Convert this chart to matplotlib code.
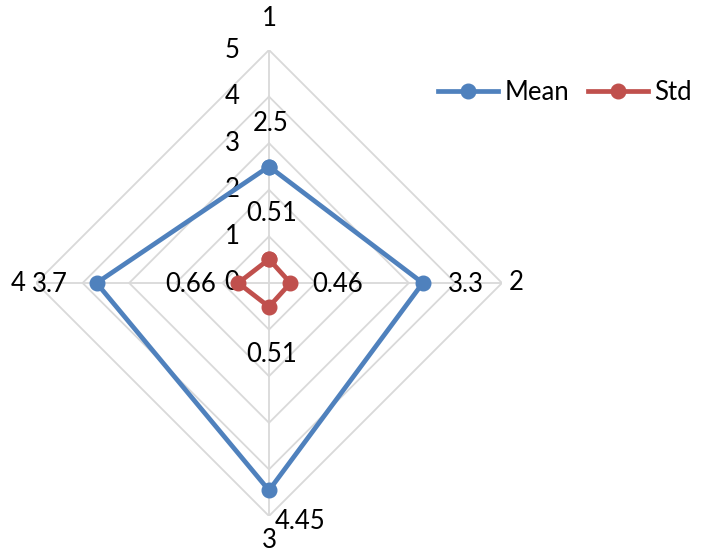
import matplotlib

matplotlib.use("Agg")
import matplotlib.pyplot as plt
import numpy as np

# radar data: four items, mean and standard deviation of the scores
categories = ["1", "2", "3", "4"]
mean_vals = [2.5, 3.3, 4.45, 3.7]
std_vals = [0.51, 0.46, 0.51, 0.66]
rings = [0, 1, 2, 3, 4, 5]

BLUE = "#4F81BD"
RED = "#C0504D"
GRID = "#D9D9D9"
FONT = "Lato"
FS = 18.5

plt.rcParams["font.family"] = [FONT, "DejaVu Sans"]

fig = plt.figure(figsize=(7.02, 5.53), dpi=100)
ax = fig.add_axes([36 / 702, 37 / 553, 466 / 702, 466 / 553], projection="polar")
ax.set_theta_zero_location("N")
ax.set_theta_direction(-1)
ax.set_ylim(0, 5)
ax.grid(False)
ax.spines["polar"].set_visible(False)
ax.set_xticks([])
ax.set_yticks([])
ax.patch.set_alpha(0)

theta = np.linspace(0, 2 * np.pi, len(categories), endpoint=False)
closed = np.append(theta, theta[0])

# diamond gridlines and spokes
for r in rings[1:]:
    ax.plot(closed, [r] * len(closed), color=GRID, lw=1.3, zorder=1)
for t in theta:
    ax.plot([t, t], [0, rings[-1]], color=GRID, lw=1.3, zorder=1)

# axis value labels, left of the top spoke
for r in rings:
    ax.annotate(str(r), xy=(0, r), xytext=(-37, 0), textcoords="offset pixels",
                ha="center", va="center", fontsize=FS)

# category labels outside the outer ring
cat_offsets = [(0, 31), (14, 0), (0, -25), (-18, 0)]
for t, lab, off in zip(theta, categories, cat_offsets):
    ax.annotate(lab, xy=(t, rings[-1]), xytext=off, textcoords="offset pixels",
                ha="center", va="center", fontsize=FS)

ax.plot(closed, mean_vals + mean_vals[:1], color=BLUE, lw=3.4, marker="o",
        markersize=10.5, label="Mean", zorder=3, solid_joinstyle="round")
ax.plot(closed, std_vals + std_vals[:1], color=RED, lw=3.4, marker="o",
        markersize=10.5, label="Std", zorder=3, solid_joinstyle="round")

# data labels, pushed outward along each spoke
lab_offsets = [(2, 43), (43, -1), (31, -31), (-47, -1)]
for t, v, off in zip(theta, mean_vals, lab_offsets):
    ax.annotate(f"{v:g}", xy=(t, v), xytext=off, textcoords="offset pixels",
                ha="center", va="center", fontsize=FS)
std_offsets = [(3, 46), (47, -1), (3, -48), (-48, -1)]
for t, v, off in zip(theta, std_vals, std_offsets):
    ax.annotate(f"{v:g}", xy=(t, v), xytext=off, textcoords="offset pixels",
                ha="center", va="center", fontsize=FS)

fig.legend(loc="center left", bbox_to_anchor=(438 / 702, 1 - 92 / 553), ncol=2,
           frameon=False, fontsize=FS, handlelength=2.35, handletextpad=0.25,
           columnspacing=0.7, borderpad=0, borderaxespad=0)

fig.savefig("out.png", dpi=100)
